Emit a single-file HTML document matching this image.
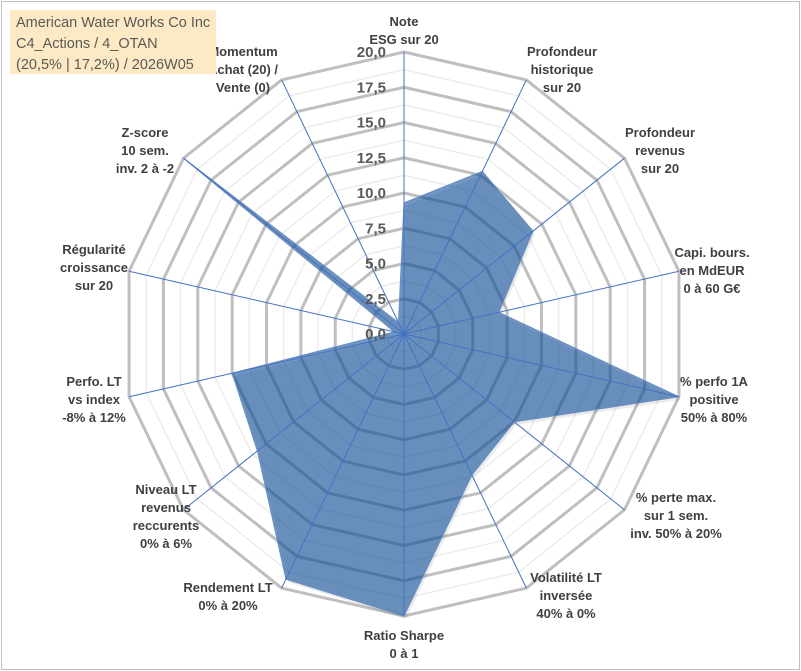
<!DOCTYPE html>
<html><head><meta charset="utf-8"><style>
body{margin:0;background:#fff}
#wrap{position:relative;width:801px;height:671px;overflow:hidden;font-family:"Liberation Sans",sans-serif}
#frame{position:absolute;left:1px;top:1px;width:797px;height:667px;border:1px solid #bfbfbf}
#title{position:absolute;left:10px;top:10px;width:206px;height:64px;background:#fde9c3;color:#595959;font-size:14.5px;line-height:21px;padding:3px 0 0 6px;box-sizing:border-box;white-space:nowrap}
svg{position:absolute;left:0;top:0}
</style></head><body>
<div id="wrap">
<div id="frame"></div>
<svg id="chart" width="801" height="671"></svg>
<div id="title">American Water Works Co Inc<br>C4_Actions / 4_OTAN<br>(20,5% | 17,2%) / 2026W05</div>
</div>
<script>
const categories=[["Note","ESG sur 20"],["Profondeur","historique","sur 20"],["Profondeur","revenus","sur 20"],["Capi. bours.","en MdEUR","0 à 60 G€"],["% perfo 1A","positive","50% à 80%"],["% perte max.","sur 1 sem.","inv. 50% à 20%"],["Volatilité LT","inversée","40% à 0%"],["Ratio Sharpe","0 à 1"],["Rendement LT","0% à 20%"],["Niveau LT","revenus","reccurents","0% à 6%"],["Perfo. LT","vs index","-8% à 12%"],["Régularité","croissance","sur 20"],["Z-score","10 sem.","inv. 2 à -2"],["Momentum","Achat (20) /","Vente (0)"]];
const values=[9.3,12.8,11.7,6.9,20,10,11.1,20,19.3,13.3,12.5,0.7,20,0.9];
const tickLabels=["0,0","2,5","5,0","7,5","10,0","12,5","15,0","17,5","20,0"];
const maxVal=20;
// label anchor positions (layout, not data): [centerX, firstBaselineY]
const labelPos=[[404,26],[562,56],[660,137],[712,257],[714,386],[676,502],[566,582],[404,640],[228,592],[166,494],[94,386],[94,254],[145,137],[243,56]];
const cx=404,cy=334,R=282,N=categories.length;
const svg=document.getElementById('chart');
const NS='http://www.w3.org/2000/svg';
function ang(i){return i*2*Math.PI/N;}
function pt(i,v){const r=v/maxVal*R;return [cx+r*Math.sin(ang(i)),cy-r*Math.cos(ang(i))];}
function mk(t,a){const e=document.createElementNS(NS,t);for(const k in a)e.setAttribute(k,a[k]);svg.appendChild(e);return e;}
for(let s=1;s<=16;s++){if(s%2===0)continue;const v=s*1.25;const p=[];for(let i=0;i<N;i++)p.push(pt(i,v).join(','));
const g=mk('polygon',{points:p.join(' '),fill:'none',stroke:'#ececec','stroke-width':1.5});

}
for(let s=1;s<tickLabels.length;s++){const v=s*2.5;const p=[];for(let i=0;i<N;i++)p.push(pt(i,v).join(','));
const g=mk('polygon',{points:p.join(' '),fill:'none',stroke:'#bfbfbf','stroke-width':3});

}
const sp=values.map((v,i)=>pt(i,v).join(',')).join(' ');
const sh=mk('polygon',{points:sp,fill:'rgba(0,0,0,0.08)',transform:'translate(2,3)'});


const poly=mk('polygon',{points:sp,fill:'rgba(17,80,157,0.6)',stroke:'#6a8fc0','stroke-width':1});


for(let i=0;i<N;i++){const p=pt(i,maxVal);const l=mk('line',{x1:cx,y1:cy,x2:p[0],y2:p[1],stroke:'#4472c4','stroke-width':1});

}
tickLabels.forEach((t,s)=>{const y=cy-(s*2.5/maxVal)*R;const e=mk('text',{x:386,y:y+5,'text-anchor':'end','font-size':15,'font-weight':'bold',fill:'#595959','font-family':'Liberation Sans, sans-serif'});e.textContent=t;

});
categories.forEach((lines,i)=>{const x=labelPos[i][0],y0=labelPos[i][1];const lh=18;
const t=mk('text',{x:x,y:y0,'text-anchor':'middle','font-size':13,'font-weight':'bold',fill:'#404040','font-family':'Liberation Sans, sans-serif'});


lines.forEach((ln,k)=>{const ts=document.createElementNS(NS,'tspan');ts.setAttribute('x',x);ts.setAttribute('dy',k===0?0:lh);ts.textContent=ln;t.appendChild(ts);});});
</script>
</body></html>
